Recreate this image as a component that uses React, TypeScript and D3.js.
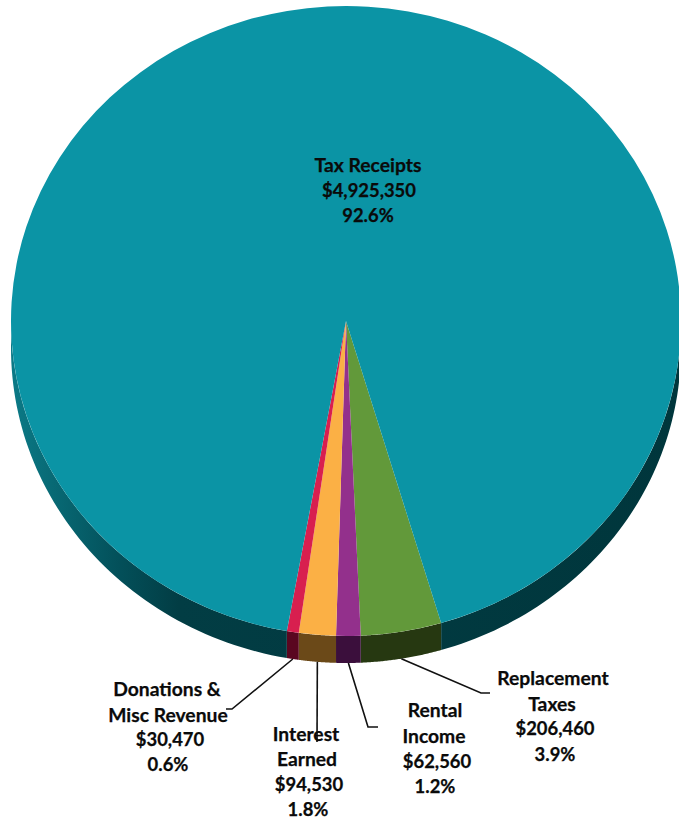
import React from "react";
import * as d3 from "d3";

// Revenue sources, in the order they run clockwise round the pie
const sources = ["Replacement Taxes", "Rental Income", "Interest Earned", "Donations & Misc Revenue", "Tax Receipts"];
const amounts = [206460, 62560, 94530, 30470, 4925350];
const topColors = ["#62993a", "#93308c", "#fbb045", "#d81f4f", "#0b94a5"];
const wallColors = ["#263811", "#3b0f3c", "#6b4918", "#5a0720", "url(#wallTeal)"];

const labelLines = [
  ["Replacement", "Taxes", "$206,460", "3.9%"],
  ["Rental", "Income", "$62,560", "1.2%"],
  ["Interest", "Earned", "$94,530", "1.8%"],
  ["Donations &", "Misc Revenue", "$30,470", "0.6%"],
  ["Tax Receipts", "$4,925,350", "92.6%"],
];
const labelX = [[553, 552, 555, 555], [435, 434, 437, 435], [306, 307, 309, 308], [167, 168, 170, 168], [368, 369, 368]];
const labelY = [[685, 711, 735, 761], [717, 743, 768, 793], [741, 766, 791, 816], [696, 722, 746, 771], [172, 197, 222]];
const leaderElbows: number[][][] = [
  [[481, 693], [490, 693]],
  [[368, 727], [378, 727]],
  [[317, 742]],
  [[232, 709], [226, 709]],
  [],
];

const width = 679;
const height = 820;
const cx = 346;
const cy = 321;
const rx = 335;
const ry = 315;
const depth = 27;
const startDeg = 163.5;

const toRad = (deg: number) => (deg * Math.PI) / 180;
const rim = (a: number): [number, number] => [cx + rx * Math.sin(a), cy - ry * Math.cos(a)];

// Extruded side of the disc between two angles, limited to the half facing the viewer
function wallPath(a0: number, a1: number): string | null {
  const pieces: string[] = [];
  for (const turn of [0, 2 * Math.PI]) {
    const lo = Math.max(a0, Math.PI / 2 + turn);
    const hi = Math.min(a1, (3 * Math.PI) / 2 + turn);
    if (hi <= lo) continue;
    const angles = d3.range(0, 61).map((i) => lo + ((hi - lo) * i) / 60);
    const upper = angles.map(rim);
    const lower = angles.map(rim).map(([x, y]) => [x, y + depth] as [number, number]).reverse();
    pieces.push((d3.line()([...upper, ...lower]) as string) + "Z");
  }
  return pieces.length ? pieces.join("") : null;
}

// Names are set a little larger than the figures, whose numerals run wide in this face
const isFigure = (t: string) => /^[$\d]/.test(t);

export default function App() {
  const pie = d3
    .pie<number>()
    .sort(null)
    .startAngle(toRad(startDeg))
    .endAngle(toRad(startDeg + 360));
  const slices = pie(amounts);
  const arc = d3.arc<d3.PieArcDatum<number>>().innerRadius(0).outerRadius(rx);
  const leader = d3.line();

  return (
    <svg
      width={width}
      height={height}
      viewBox={`0 0 ${width} ${height}`}
      style={{ position: "absolute", left: 0, top: 0, background: "#fff" }}
      fontFamily="Lato, 'Open Sans', sans-serif"
      fontWeight={700}
    >
      <defs>
        <linearGradient id="wallTeal" gradientUnits="userSpaceOnUse" x1={cx - rx} x2={cx + rx} y1={0} y2={0}>
          <stop offset="0" stopColor="#0b7a87" />
          <stop offset="0.06" stopColor="#086a75" />
          <stop offset="0.16" stopColor="#03505a" />
          <stop offset="0.25" stopColor="#023d44" />
          <stop offset="1" stopColor="#00363c" />
        </linearGradient>
      </defs>

      {slices.map((s, i) => {
        const d = wallPath(s.startAngle, s.endAngle);
        return d ? <path key={sources[i]} d={d} fill={wallColors[i]} /> : null;
      })}

      <g transform={`translate(${cx},${cy}) scale(1,${ry / rx})`}>
        {slices.map((s, i) => (
          <path key={sources[i]} d={arc(s) as string} fill={topColors[i]} />
        ))}
      </g>

      {slices.map((s, i) => {
        if (!leaderElbows[i].length) return null;
        const [x, y] = rim((s.startAngle + s.endAngle) / 2);
        const pts = [[x, y + depth], ...leaderElbows[i]] as [number, number][];
        return <path key={sources[i]} d={leader(pts) as string} fill="none" stroke="#111" strokeWidth={1.6} />;
      })}

      {labelLines.map((lines, i) =>
        lines.map((t, j) => (
          <text
            key={t}
            x={labelX[i][j]}
            y={labelY[i][j]}
            textAnchor="middle"
            fill="#0a0a0a"
            stroke="#0a0a0a"
            strokeWidth={0.25}
            fontSize={isFigure(t) ? 18.4 : 19.3}
          >
            {t}
          </text>
        )),
      )}
    </svg>
  );
}
